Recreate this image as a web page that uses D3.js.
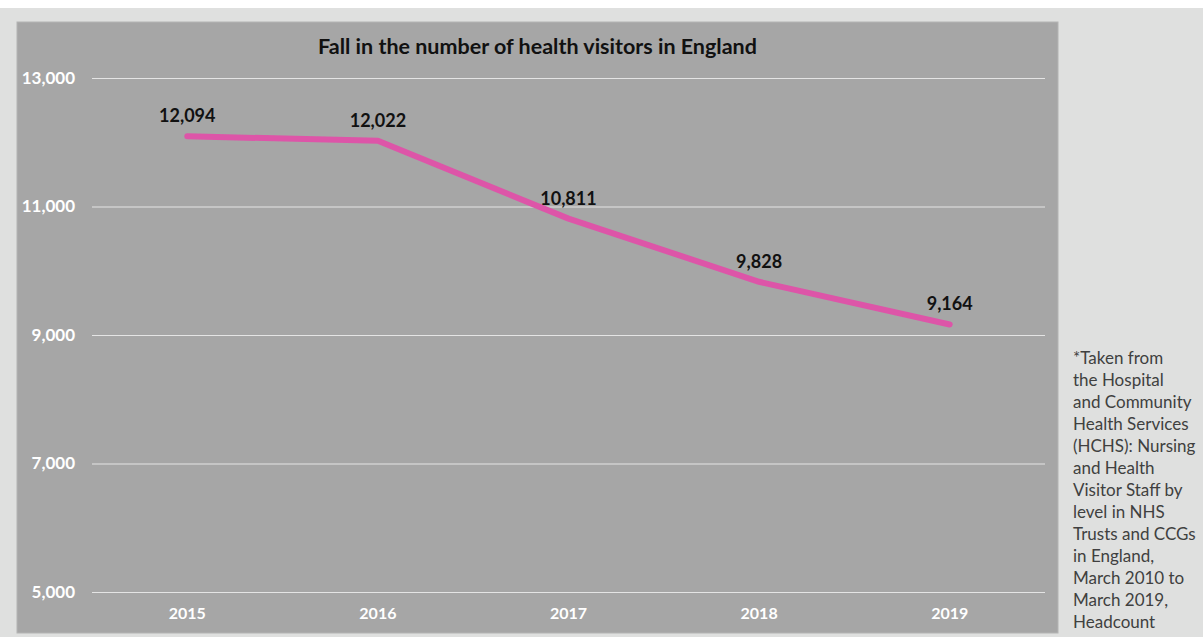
<!DOCTYPE html>
<html>
<head>
<meta charset="utf-8">
<script src="https://cdn.jsdelivr.net/npm/d3@7"></script>
<style>
  body { margin: 0; background: #ffffff; }
  svg { display: block; }
</style>
</head>
<body>
<svg id="visualisation" width="1203" height="637"></svg>
<script>
// chart data
var years = ["2015", "2016", "2017", "2018", "2019"];
var visitors = [12094, 12022, 10811, 9828, 9164];
var yTicks = [5000, 7000, 9000, 11000, 13000];
var title = "Fall in the number of health visitors in England";
var noteLines = ["*Taken from", "the Hospital", "and Community", "Health Services",
    "(HCHS): Nursing", "and Health", "Visitor Staff by", "level in NHS",
    "Trusts and CCGs", "in England,", "March 2010 to", "March 2019,", "Headcount"];

var initchart = function () {
    var vis = d3.select("#visualisation"),
        FONT = "Lato, 'Open Sans', sans-serif",
        PANEL = { left: 17, top: 22, right: 1058, bottom: 633 },
        MARGINS = { left: 92, right: 1045, top: 78, bottom: 592 };

    var data = years.map(function (y, i) {
        return { year: y, value: visitors[i] };
    });

    // backgrounds
    vis.append("rect").attr("x", 0).attr("y", 8).attr("width", 1203).attr("height", 629)
        .attr("fill", "#dfe0df");
    vis.append("rect")
        .attr("x", PANEL.left).attr("y", PANEL.top)
        .attr("width", PANEL.right - PANEL.left).attr("height", PANEL.bottom - PANEL.top)
        .attr("fill", "#a6a6a6").attr("stroke", "#b4b4b4").attr("stroke-width", 1);

    var xScale = d3.scaleBand().domain(years).range([MARGINS.left, MARGINS.right]),
        yScale = d3.scaleLinear().domain([5000, 13000]).range([MARGINS.bottom, MARGINS.top]);

    // gridlines + y labels
    var yAxis = d3.axisLeft(yScale)
        .tickValues(yTicks)
        .tickSize(-(MARGINS.right - MARGINS.left))
        .tickPadding(17)
        .tickFormat(d3.format(","));
    var gy = vis.append("g")
        .attr("class", "y axis")
        .attr("transform", "translate(" + MARGINS.left + ",0)")
        .call(yAxis);
    gy.select(".domain").remove();
    gy.selectAll("line").attr("stroke", "#e4e4e4").attr("stroke-width", 1.2);
    gy.selectAll("text")
        .attr("fill", "#ffffff").attr("font-family", FONT)
        .attr("font-size", 17).attr("font-weight", "bold");

    // x labels
    var xAxis = d3.axisBottom(xScale).tickSize(0).tickPadding(16);
    var gx = vis.append("g")
        .attr("class", "x axis")
        .attr("transform", "translate(0," + MARGINS.bottom + ")")
        .call(xAxis);
    gx.select(".domain").remove();
    gx.selectAll("text")
        .attr("fill", "#ffffff").attr("font-family", FONT)
        .attr("font-size", 16).attr("font-weight", "bold");

    // line
    var lineGen = d3.line()
        .x(function (d) { return xScale(d.year) + xScale.bandwidth() / 2; })
        .y(function (d) { return yScale(d.value); });
    vis.append("path")
        .attr("d", lineGen(data))
        .attr("stroke", "#dd55a8")
        .attr("stroke-width", 6)
        .attr("stroke-linecap", "round")
        .attr("stroke-linejoin", "round")
        .attr("fill", "none");

    // data labels
    vis.append("g").selectAll("text")
        .data(data).enter().append("text")
        .attr("x", function (d) { return xScale(d.year) + xScale.bandwidth() / 2; })
        .attr("y", function (d) { return yScale(d.value) - 14; })
        .attr("text-anchor", "middle")
        .attr("font-family", FONT).attr("font-size", 18).attr("font-weight", "bold")
        .attr("fill", "#111111")
        .text(function (d) { return d3.format(",")(d.value); });

    // title
    vis.append("text")
        .attr("x", (PANEL.left + PANEL.right) / 2).attr("y", 54)
        .attr("text-anchor", "middle")
        .attr("font-family", FONT).attr("font-size", 21.5).attr("font-weight", "bold")
        .attr("fill", "#111111")
        .text(title);

    // source note
    var note = vis.append("text")
        .attr("font-family", FONT).attr("font-size", 17)
        .attr("fill", "#404040");
    note.selectAll("tspan")
        .data(noteLines).enter().append("tspan")
        .attr("x", 1073)
        .attr("y", function (d, i) { return 364 + i * 22; })
        .text(function (d) { return d; });
};

initchart();
</script>
</body>
</html>
